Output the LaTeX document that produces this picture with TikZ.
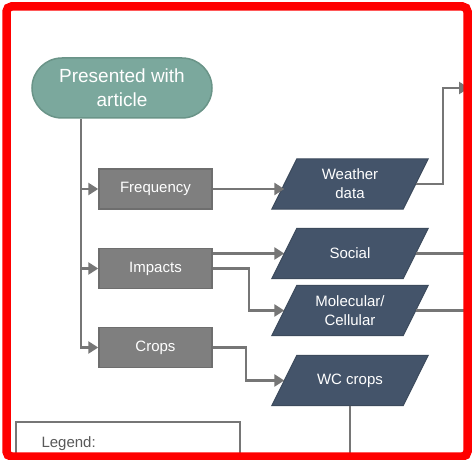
\documentclass[tikz,border=0pt]{standalone}
\usepackage{fontspec}
\setmainfont{Liberation Sans}
\usepackage{xcolor}
\usetikzlibrary{arrows.meta}
\usetikzlibrary{backgrounds}
\definecolor{startfill}{HTML}{7BA89D}
\definecolor{startline}{HTML}{6A9488}
\definecolor{boxfill}{HTML}{7F7F7F}
\definecolor{boxline}{HTML}{6E6E6E}
\definecolor{datafill}{HTML}{44546A}
\definecolor{dataline}{HTML}{3C4A5C}
\definecolor{flowgray}{HTML}{767676}
\definecolor{legendtext}{HTML}{595959}
\newcommand{\flowarrow}{-{Triangle[length=10pt,width=12pt]}}

\begin{document}
\begin{tikzpicture}[x=1pt,y=-1pt,
	startnode/.style={draw=startline,fill=startfill,line width=1.5pt,rounded corners=30pt,minimum width=180pt,minimum height=60pt,align=center,text=white,font=\fontsize{19}{24}\selectfont},
	topicbox/.style={draw=boxline,fill=boxfill,line width=1.5pt,minimum width=113pt,minimum height=40pt,text=white,font=\fontsize{15}{19}\selectfont},
	databox/.style={minimum width=131pt,minimum height=50pt,inner sep=0pt,align=center,text=white,font=\fontsize{15}{19}\selectfont},
	datashape/.style={draw=dataline,fill=datafill,line width=1pt,line join=miter},
	flow/.style={draw=flowgray,line width=2.5pt}]
	\useasboundingbox (0,0) rectangle (472,460);
		% start and topics
		\node[startnode] (start) at (122,88) {Presented with\\article};
		\node[topicbox] (freq) at (155.5,189) {Frequency};
		\node[topicbox] (imp) at (155.5,268.5) {Impacts};
		\node[topicbox] (crops) at (155.5,347.5) {Crops};
		% data
		\node[databox] (wd) at (350,184) {Weather\\data};
		\node[databox] (soc) at (350,253.5) {Social};
		\node[databox] (mol) at (350,310.5) {Molecular/\\Cellular};
		\node[databox] (wc) at (350,380.5) {WC crops};
		\begin{scope}[on background layer]
			\fill[white] (0,0) rectangle (472,460);
			\foreach \n in {wd,soc,mol,wc}
				\filldraw[datashape] ([xshift=-12.5pt]\n.south west) -- ([xshift=-12.5pt]\n.south east) -- ([xshift=12.5pt]\n.north east) -- ([xshift=12.5pt]\n.north west) -- cycle;
		\end{scope}
		\coordinate (trunk) at ([xshift=-41pt]start.south);
		\coordinate (wout) at (469,88);
		\coordinate (rim) at (470,460);
		% connectors
		\draw[flow,\flowarrow] (trunk) |- (crops.west);
		\draw[flow,\flowarrow] (trunk |- freq.west) -- (freq.west);
		\draw[flow,\flowarrow] (trunk |- imp.west) -- (imp.west);
		\draw[flow,\flowarrow] (freq.east) -- (freq.east -| wd.west);
		\draw[flow,\flowarrow] (imp.east |- soc.west) -- (soc.west);
		\draw[flow,\flowarrow] (imp.east) -- ++(36,0) |- (mol.west);
		\draw[flow,\flowarrow] (crops.east) -- ++(33,0) |- (wc.west);
		\draw[flow,\flowarrow] (wd.east) -- ++(27.5,0) |- (wout);
		\draw[flow] (soc.east) -- (soc.east -| rim);
		\draw[flow] (mol.east) -- (mol.east -| rim);
		\draw[flow] (wc.south) -- (wc.south |- rim);
		% legend
		\draw[flow] (16,422) rectangle (240,458);
		\node[anchor=west,text=legendtext,font=\fontsize{15}{19}\selectfont] (legend) at (38,444) {Legend:};
		% frame
		\draw[red,line width=8.5pt,rounded corners=5pt] (6.5,6.5) rectangle (467.5,456.5);
\end{tikzpicture}
\end{document}
